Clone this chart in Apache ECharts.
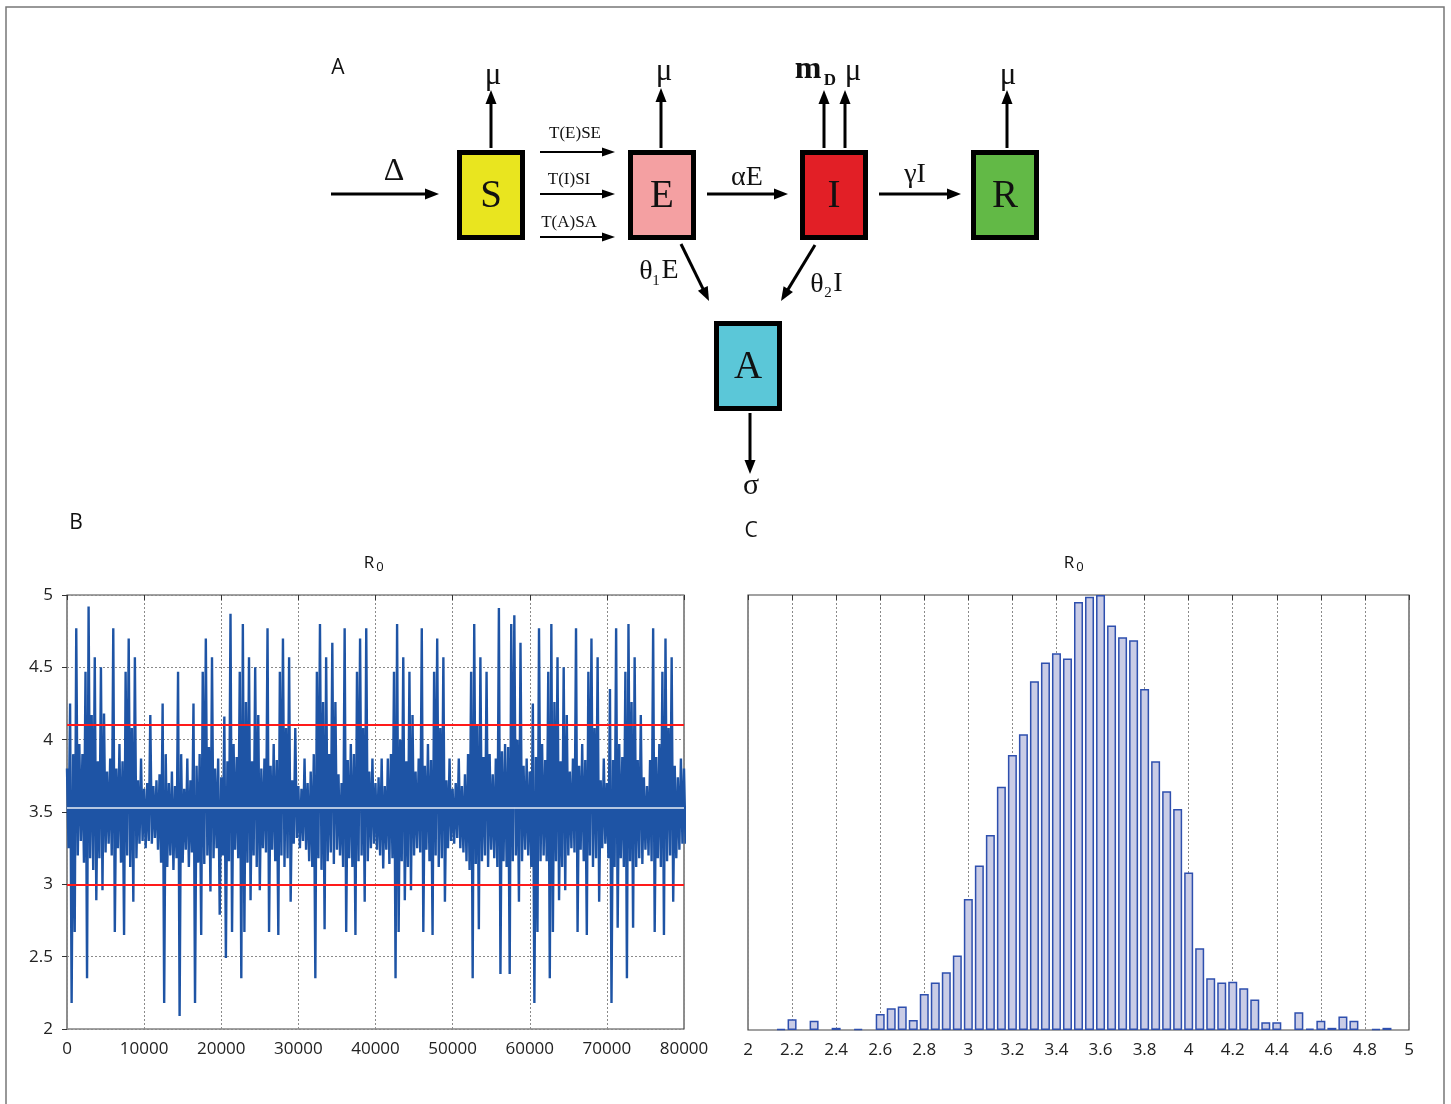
<!DOCTYPE html>
<html>
<head>
<meta charset="utf-8">
<script src="https://cdn.jsdelivr.net/npm/echarts@6/dist/echarts.min.js"></script>
<style>html,body{margin:0;padding:0;background:#fff}#c{width:1451px;height:1104px}</style>
</head>
<body>
<div id="c"></div>
<script>
// ---------- DATA ----------
// Trace of R0 (MCMC iterations), sampled every 400 iterations: upper and lower excursions
const traceStep = 400;
const traceHigh = [
3.80,4.25,3.90,4.77,3.97,3.90,4.47,4.92,4.17,4.57,
3.85,4.50,4.18,3.78,3.87,4.77,3.80,3.97,3.85,4.47,
4.70,4.08,4.57,3.72,3.87,3.66,3.70,4.17,3.68,3.72,
3.76,4.25,3.90,3.70,3.78,3.68,4.47,3.90,3.66,3.87,
3.72,4.25,3.82,3.90,4.47,4.70,3.95,4.57,3.80,3.87,
3.74,4.16,3.85,4.87,3.97,3.88,4.47,4.80,4.26,4.57,
3.85,4.50,4.17,3.80,3.87,4.77,3.82,3.97,3.86,4.47,
4.70,4.08,4.57,3.72,4.08,3.68,3.66,3.87,3.70,3.78,
3.90,4.47,4.80,4.26,4.57,3.90,4.67,4.26,3.76,3.70,
4.77,3.86,3.97,3.90,4.47,4.70,4.08,4.77,3.78,3.87,
3.70,3.74,3.87,3.68,3.87,3.90,4.47,4.80,4.00,4.57,
3.85,4.47,4.17,3.78,3.87,4.77,3.82,3.97,3.86,4.47,
4.70,4.08,4.57,3.72,3.87,3.66,3.70,3.87,3.68,3.76,
3.90,4.47,4.80,4.10,4.57,3.88,4.47,3.90,3.76,3.87,
4.91,3.92,3.97,3.95,4.80,4.86,4.00,4.67,3.82,3.87,
3.78,4.25,3.88,4.77,3.97,3.86,4.47,4.80,4.26,4.57,
3.85,4.50,4.17,3.78,3.87,4.77,3.82,3.97,3.86,4.47,
4.70,4.08,4.57,3.72,3.87,3.70,4.35,3.86,4.77,3.97,
3.88,4.47,4.80,4.26,4.57,3.86,4.17,3.74,3.68,3.86,
4.77,3.88,3.97,4.47,4.70,4.08,4.57,3.82,3.74,3.87,
3.80];
const traceLow = [
3.25,2.18,2.67,3.20,3.30,3.15,2.35,3.18,3.10,2.89,
3.18,2.96,3.22,3.28,3.20,2.67,3.25,3.15,2.65,3.20,
3.12,2.88,3.18,3.28,3.30,3.25,3.30,3.28,3.32,3.24,
3.15,2.18,3.12,3.20,3.10,3.18,2.09,3.15,3.24,3.12,
3.22,2.18,3.15,2.65,3.14,3.20,2.95,3.18,3.25,2.79,
3.20,2.49,3.16,2.67,3.24,3.18,2.35,2.67,3.15,2.89,
3.20,3.12,2.96,3.25,3.22,2.67,3.24,3.16,2.65,3.20,
3.12,3.18,2.88,3.28,3.32,3.25,3.30,3.24,3.16,3.12,
2.35,3.18,3.10,2.69,3.16,3.22,3.14,3.24,3.20,3.12,
2.67,3.18,3.12,2.65,3.16,3.20,2.88,3.16,3.25,3.28,
3.24,3.20,3.11,3.24,3.14,3.18,2.35,2.67,3.16,2.89,
3.12,2.96,3.20,3.25,3.22,2.67,3.24,3.16,2.65,3.20,
3.12,3.18,2.88,3.25,3.30,3.28,3.32,3.25,3.22,3.16,
3.10,2.35,3.14,2.69,3.16,3.20,3.12,3.24,3.18,3.12,
2.38,3.16,3.12,2.38,3.16,3.20,2.88,3.16,3.24,3.20,
3.12,2.18,2.67,3.16,3.20,3.16,2.35,2.67,3.16,2.89,
3.12,2.96,3.20,3.25,3.22,2.67,3.24,3.16,2.65,3.20,
3.12,3.18,2.88,3.25,3.28,3.18,2.18,3.12,2.70,3.18,
3.12,2.35,3.16,2.70,3.12,3.18,3.14,3.24,3.20,3.16,
2.67,3.18,3.12,2.65,3.16,3.20,2.88,3.18,3.24,3.28,
3.28];
const credibleBounds = [4.1, 3.0];
const traceMean = 3.53;

// Histogram of R0 (bin centres, relative heights)
const histBins = [2.15,2.2,2.3,2.4,2.5,2.6,2.65,2.7,2.75,2.8,2.85,2.9,2.95,
  3.0,3.05,3.1,3.15,3.2,3.25,3.3,3.35,3.4,3.45,3.5,3.55,3.6,3.65,3.7,3.75,3.8,3.85,3.9,3.95,
  4.0,4.05,4.1,4.15,4.2,4.25,4.3,4.35,4.4,4.5,4.55,4.6,4.65,4.7,4.75,4.85,4.9];
const histCounts = [0.2,2.5,2.1,0.5,0.2,3.7,5.0,5.4,2.3,8.3,10.9,13.3,17.1,
  30.1,37.8,44.8,55.9,63.2,68.0,80.2,84.5,86.6,85.4,98.4,99.6,100,93.0,90.3,89.6,78.4,61.8,54.9,50.8,
  36.2,18.8,11.9,10.9,11.1,9.6,7.0,1.8,1.8,4.1,0.3,2.1,0.5,3.1,2.1,0.2,0.5];

// ---------- BUILD ----------
const traceData = [];
for (let i = 0; i < traceHigh.length; i++) {
  traceData.push([i * traceStep, traceHigh[i]]);
  traceData.push([i * traceStep + traceStep / 2, traceLow[i]]);
}
const histData = histBins.map((b, i) => [b, histCounts[i]]);

const SERIF = "'Liberation Serif','DejaVu Serif',serif";
const SANS = "'Open Sans','Noto Sans',sans-serif";
const G = [];
function arrow(x1, y1, x2, y2, lw, hl, hw) {
  const dx = x2 - x1, dy = y2 - y1, L = Math.hypot(dx, dy), ux = dx / L, uy = dy / L;
  const bx = x2 - ux * hl, by = y2 - uy * hl, px = -uy, py = ux;
  G.push({type: 'line', shape: {x1: x1, y1: y1, x2: bx + ux, y2: by + uy}, style: {stroke: '#000', lineWidth: lw}});
  G.push({type: 'polygon', shape: {points: [[x2, y2], [bx + px * hw / 2, by + py * hw / 2], [bx - px * hw / 2, by - py * hw / 2]]}, style: {fill: '#000'}});
}
function txt(s, x, y, size, family, weight, align) {
  G.push({type: 'text', x: x, y: y, style: {text: s, font: (weight || 'normal') + ' ' + size + 'px ' + family,
    fill: '#111', textAlign: align || 'center', textVerticalAlign: 'middle'}, z: 10});
}
function box(letter, x, y, fill) {
  G.push({type: 'rect', shape: {x: x + 2.5, y: y + 2.5, width: 63, height: 85}, style: {fill: fill, stroke: '#000', lineWidth: 5}});
  txt(letter, x + 34, y + 47, 39, SERIF);
}
// outer frame
G.push({type: 'rect', shape: {x: 6, y: 7, width: 1438, height: 1110}, style: {fill: 'none', stroke: '#777', lineWidth: 1.5}, z: -1});
// panel letters
txt('A', 338, 68, 21, SANS);
txt('B', 76, 523, 21, SANS);
txt('C', 751, 531, 21, SANS);
// boxes
box('S', 457, 150, '#e9e51f');
box('E', 628, 150, '#f4a0a2');
box('I', 800, 150, '#e21f26');
box('R', 971, 150, '#62b946');
box('A', 714, 321, '#5bc7d8');
// arrows
arrow(331, 194, 439, 194, 3, 14, 11);
arrow(491, 148, 491, 90, 3, 14, 11);
arrow(540, 152, 615, 152, 2, 13, 9);
arrow(540, 194, 615, 194, 2, 13, 9);
arrow(540, 237, 615, 237, 2, 13, 9);
arrow(661, 148, 661, 88, 3, 14, 11);
arrow(707, 194, 788, 194, 3, 14, 11);
arrow(824, 148, 824, 90, 3, 14, 11);
arrow(845, 148, 845, 90, 3, 14, 11);
arrow(879, 194, 961, 194, 3, 14, 11);
arrow(1007, 148, 1007, 90, 3, 14, 11);
arrow(681, 244, 709, 301, 3, 14, 11);
arrow(815, 245, 781, 301, 3, 14, 11);
arrow(750, 413, 750, 474, 3, 14, 11);
// labels
txt('Δ', 394, 172, 32, SERIF);
txt('μ', 493, 76, 31, SERIF);
txt('μ', 664, 72, 31, SERIF);
txt('μ', 853, 72, 31, SERIF);
txt('μ', 1008, 76, 31, SERIF);
txt('m', 808, 70, 32, SERIF, 'bold');
txt('D', 830, 81, 17, SERIF, 'bold');
txt('T(E)SE', 575, 134, 17, SERIF);
txt('T(I)SI', 569, 180, 17, SERIF);
txt('T(A)SA', 569, 223, 17, SERIF);
txt('αE', 747, 178, 28, SERIF);
txt('γI', 915, 175, 28, SERIF);
txt('θ', 646, 272, 28, SERIF);
txt('1', 656, 281, 15, SERIF);
txt('E', 670, 271, 28, SERIF);
txt('θ', 817, 285, 28, SERIF);
txt('2', 828, 293, 15, SERIF);
txt('I', 838, 284, 28, SERIF);
txt('σ', 751, 486, 30, SERIF);
// plot titles R0
txt('R', 369, 563, 17, SANS);
txt('0', 380, 567, 13, SANS);
txt('R', 1069, 563, 17, SANS);
txt('0', 1080, 567, 13, SANS);

const dotted = {color: '#8a8a8a', width: 1, type: [2, 2]};
const lbl = {color: '#222', fontSize: 17, fontFamily: SANS, formatter: v => String(v)};

const option = {
  animation: false,
  backgroundColor: '#fff',
  grid: [
    {left: 67, right: 767, top: 595, bottom: 75, show: true, borderColor: '#444', borderWidth: 1.2, backgroundColor: '#fff'},
    {left: 748, right: 42, top: 595, bottom: 74, show: true, borderColor: '#444', borderWidth: 1.2, backgroundColor: '#fff'}
  ],
  xAxis: [
    {type: 'value', gridIndex: 0, min: 0, max: 80000, interval: 10000,
      axisLine: {show: false}, axisTick: {show: false},
      axisLabel: Object.assign({margin: 12, showMinLabel: true, showMaxLabel: true}, lbl),
      splitLine: {show: true, lineStyle: dotted}},
    {type: 'value', gridIndex: 0, position: 'top', min: 0, max: 80000, interval: 10000,
      axisLine: {show: false}, axisTick: {show: true, inside: true, length: 5, lineStyle: {color: '#333'}},
      axisLabel: {show: false}, splitLine: {show: false}},
    {type: 'value', gridIndex: 1, min: 2, max: 5, interval: 0.2,
      axisLine: {show: false}, axisTick: {show: false},
      axisLabel: Object.assign({margin: 12, showMinLabel: true, showMaxLabel: true}, lbl),
      splitLine: {show: true, lineStyle: dotted}},
    {type: 'value', gridIndex: 1, position: 'top', min: 2, max: 5, interval: 0.2,
      axisLine: {show: false}, axisTick: {show: true, inside: true, length: 5, lineStyle: {color: '#333'}},
      axisLabel: {show: false}, splitLine: {show: false}}
  ],
  yAxis: [
    {type: 'value', gridIndex: 0, min: 2, max: 5, interval: 0.5,
      axisLine: {show: false}, axisTick: {show: false},
      axisLabel: Object.assign({margin: 14}, lbl),
      splitLine: {show: true, lineStyle: dotted}},
    {type: 'value', gridIndex: 0, position: 'right', min: 2, max: 5, interval: 0.5,
      axisLine: {show: false}, axisTick: {show: true, inside: true, length: 5, lineStyle: {color: '#333'}},
      axisLabel: {show: false}, splitLine: {show: false}},
    {type: 'value', gridIndex: 1, min: 0, max: 100,
      axisLine: {show: false}, axisTick: {show: false}, axisLabel: {show: false}, splitLine: {show: false}}
  ],
  series: [
    {type: 'line', xAxisIndex: 0, yAxisIndex: 0, data: traceData, symbol: 'none', sampling: null,
      lineStyle: {color: '#1e54a5', width: 2.4}, clip: true, z: 2,
      markLine: {silent: true, symbol: 'none', label: {show: false}, animation: false,
        data: [
          {yAxis: traceMean, lineStyle: {color: '#ffffff', width: 1.5, type: 'solid', opacity: 0.9}},
          {yAxis: credibleBounds[0], lineStyle: {color: '#ff1a1a', width: 2, type: 'solid'}},
          {yAxis: credibleBounds[1], lineStyle: {color: '#ff1a1a', width: 2, type: 'solid'}}
        ]}},
    {type: 'bar', xAxisIndex: 2, yAxisIndex: 2, data: histData, barWidth: 9,
      itemStyle: {color: '#c9cce6', borderColor: '#2e4fae', borderWidth: 1.5}}
  ],
  graphic: {elements: G}
};
const chart = echarts.init(document.getElementById('c'), null, {renderer: 'canvas'});
chart.setOption(option);
</script>
</body>
</html>
